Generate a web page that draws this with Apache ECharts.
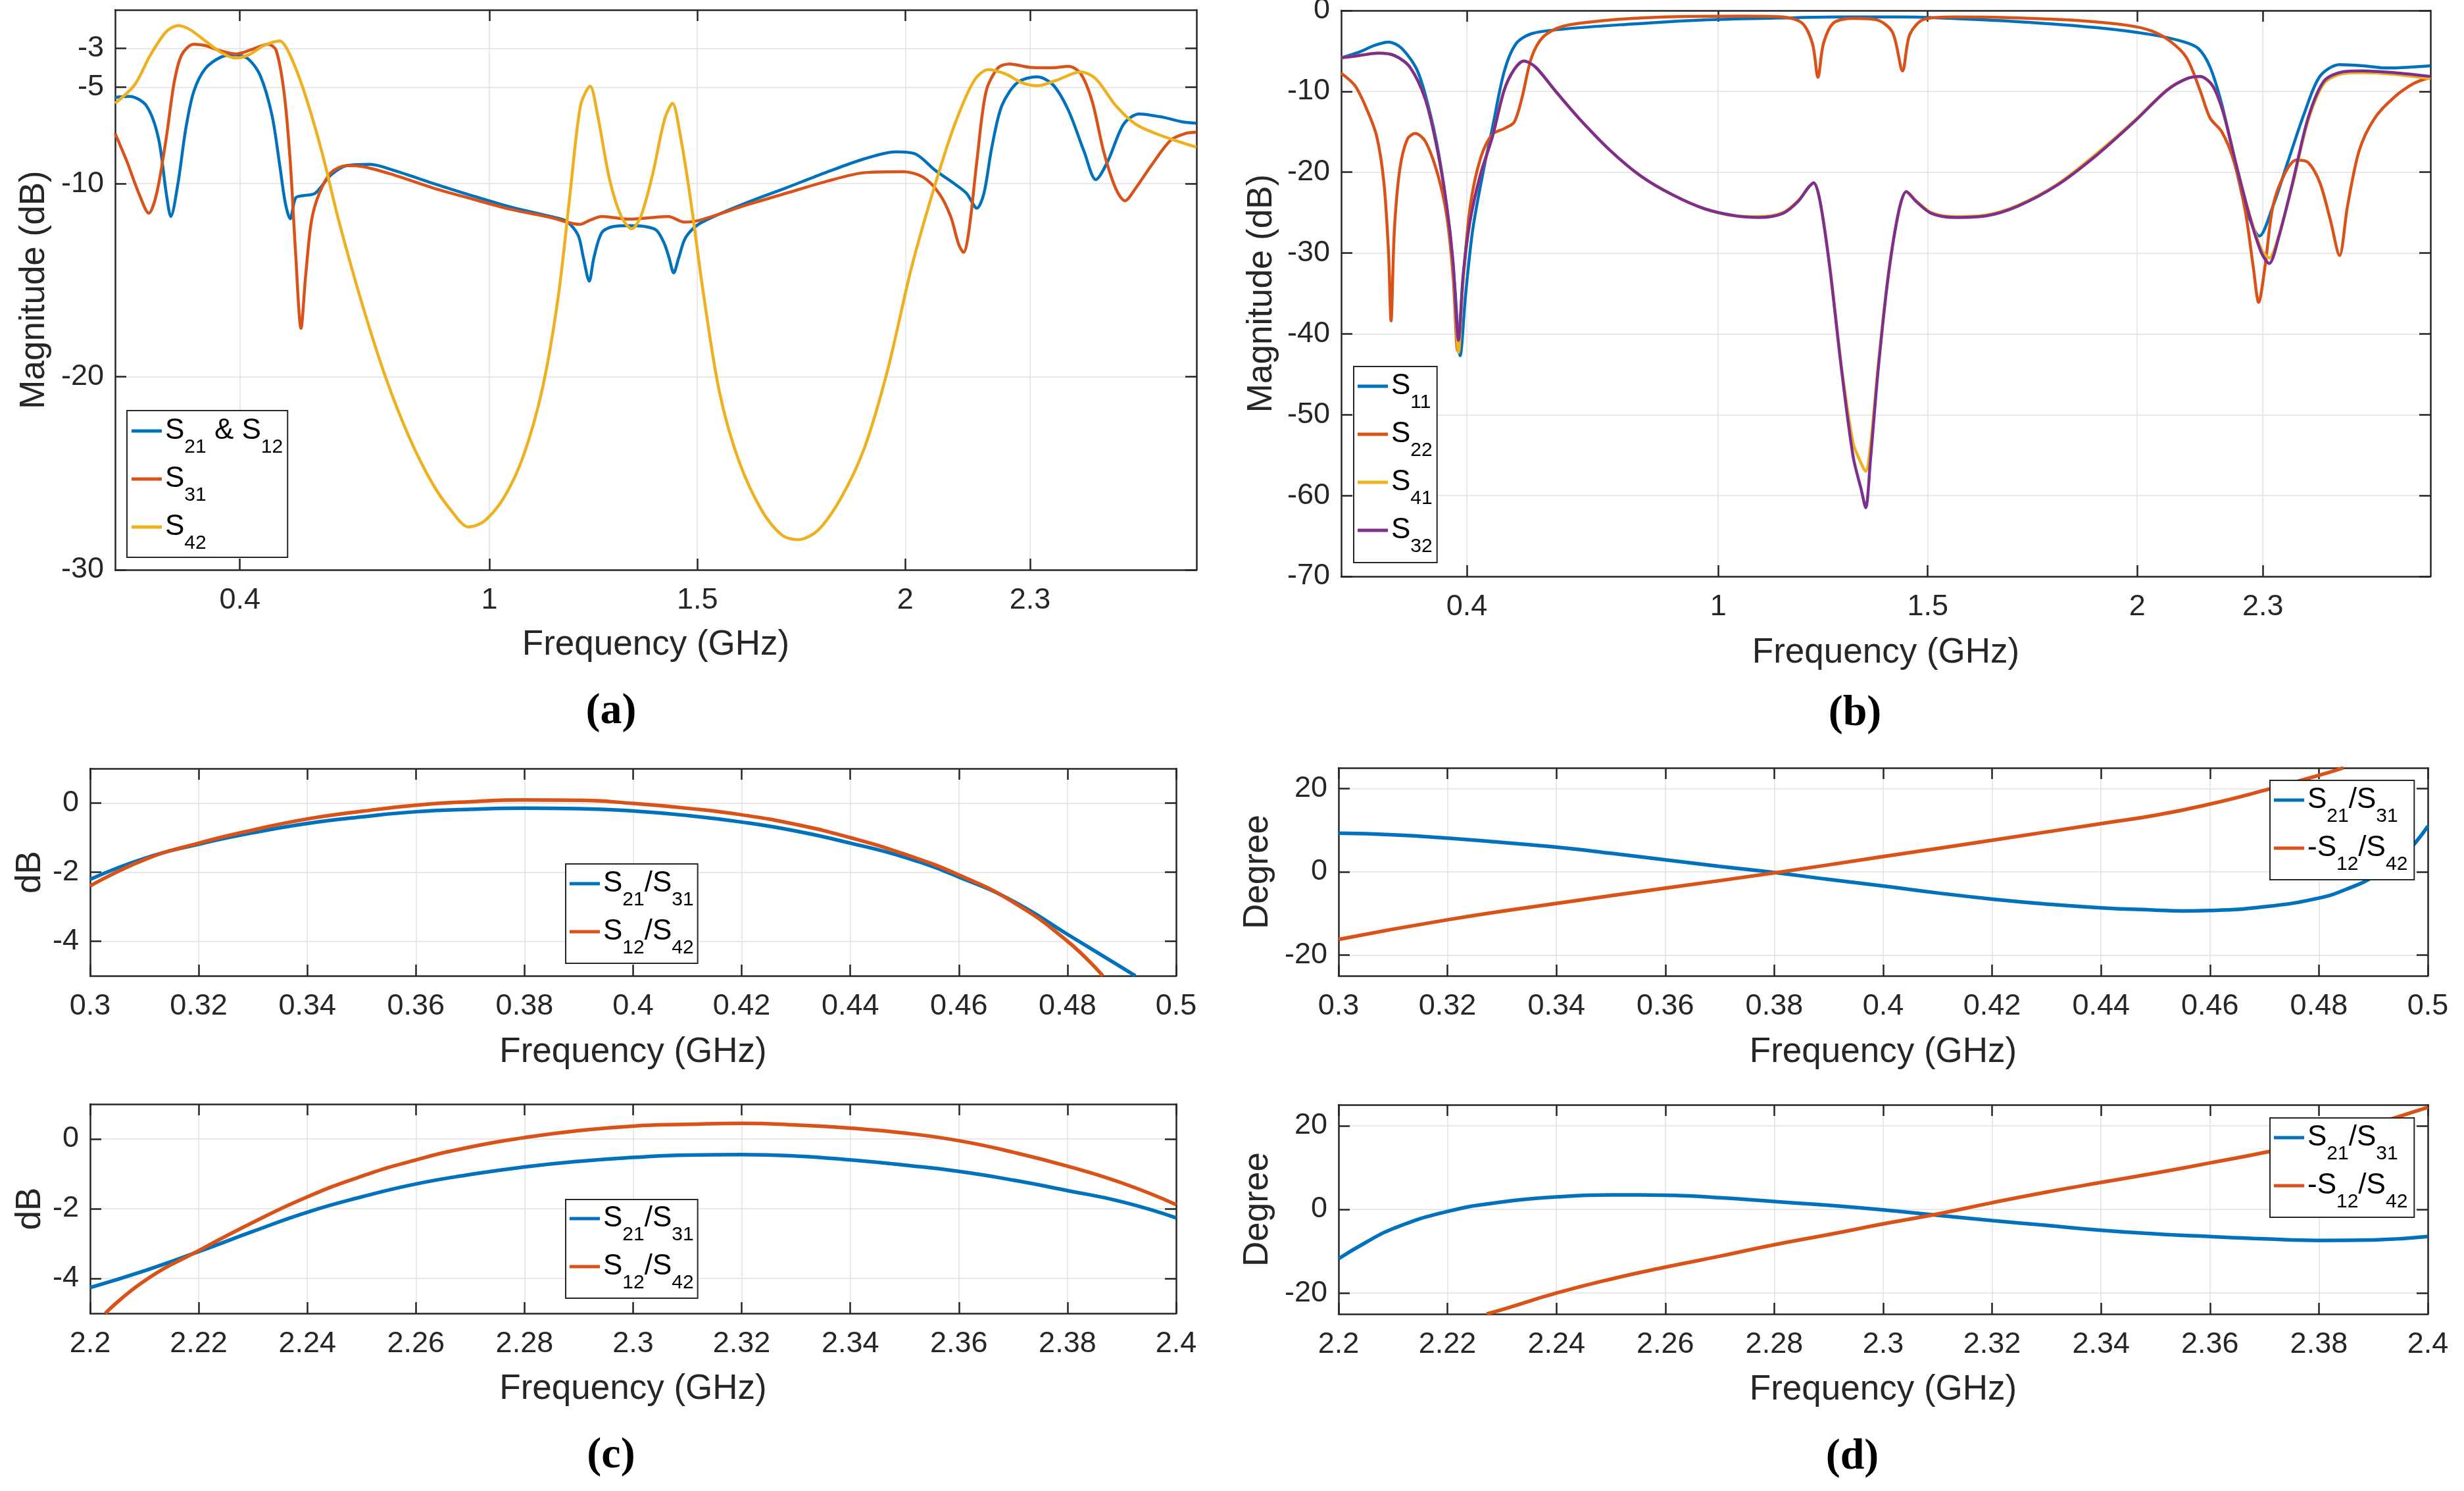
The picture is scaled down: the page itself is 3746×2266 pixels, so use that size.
<!DOCTYPE html>
<html>
<head>
<meta charset="utf-8">
<title>S-parameter responses</title>
<script src="https://cdn.jsdelivr.net/npm/echarts@6/dist/echarts.min.js"></script>
<style>
  html, body { margin: 0; padding: 0; background: #fff; }
  #chart { width: 3746px; height: 2266px; }
</style>
</head>
<body>
<div id="chart"></div>
<script>
// ---- data ----

// (a) magnitude, [GHz, dB]
var aS21 = [[0.1,-5.53],[0.135,-5.48],[0.175,-5.96],[0.204,-7.63],[0.223,-10.5],[0.234,-11.7],[0.251,-10.0],[0.270,-7.15],[0.289,-5.24],[0.317,-4.04],[0.355,-3.44],[0.392,-3.33],[0.421,-3.56],[0.449,-4.4],[0.477,-6.44],[0.496,-9.07],[0.509,-10.98],[0.521,-11.82],[0.534,-10.74],[0.553,-10.62],[0.581,-10.5],[0.619,-9.55],[0.657,-9.07],[0.713,-9.0],[0.770,-9.31],[0.864,-9.98],[0.958,-10.62],[1.053,-11.22],[1.147,-11.7],[1.185,-11.94],[1.213,-12.66],[1.226,-13.85],[1.240,-15.05],[1.251,-13.85],[1.270,-12.54],[1.298,-12.22],[1.336,-12.18],[1.374,-12.22],[1.402,-12.42],[1.421,-13.13],[1.432,-13.85],[1.443,-14.62],[1.455,-13.85],[1.472,-12.78],[1.506,-12.06],[1.619,-10.98],[1.713,-10.22],[1.808,-9.43],[1.902,-8.71],[1.977,-8.35],[2.025,-8.47],[2.072,-9.31],[2.119,-10.02],[2.147,-10.5],[2.172,-11.27],[2.189,-10.5],[2.208,-8.11],[2.232,-5.96],[2.270,-4.76],[2.317,-4.47],[2.355,-4.88],[2.392,-6.2],[2.430,-8.35],[2.458,-9.79],[2.487,-8.83],[2.525,-6.91],[2.562,-6.39],[2.619,-6.56],[2.666,-6.8],[2.7,-6.87]];
var aS31 = [[0.1,-7.4],[0.128,-8.83],[0.157,-10.5],[0.181,-11.53],[0.2,-10.5],[0.223,-7.63],[0.242,-4.76],[0.26,-3.33],[0.289,-2.78],[0.317,-2.85],[0.355,-3.13],[0.392,-3.28],[0.430,-3.04],[0.468,-2.78],[0.487,-3.09],[0.506,-5.24],[0.521,-8.83],[0.534,-13.61],[0.547,-17.49],[0.558,-14.8],[0.572,-11.94],[0.591,-10.5],[0.619,-9.43],[0.657,-9.07],[0.694,-9.11],[0.770,-9.55],[0.864,-10.22],[0.958,-10.79],[1.053,-11.34],[1.147,-11.75],[1.217,-12.11],[1.242,-11.89],[1.27,-11.7],[1.336,-11.84],[1.430,-11.7],[1.468,-11.99],[1.506,-11.89],[1.619,-11.1],[1.713,-10.5],[1.808,-9.9],[1.902,-9.43],[1.996,-9.38],[2.043,-9.67],[2.081,-10.5],[2.109,-11.7],[2.128,-13.13],[2.140,-13.56],[2.153,-12.42],[2.172,-8.83],[2.194,-5.24],[2.223,-4.0],[2.251,-3.8],[2.298,-3.97],[2.355,-4.0],[2.392,-3.92],[2.421,-4.28],[2.449,-5.72],[2.477,-8.35],[2.506,-10.26],[2.528,-10.89],[2.553,-10.26],[2.591,-9.07],[2.638,-7.75],[2.675,-7.39],[2.7,-7.34]];
var aS42 = [[0.1,-5.84],[0.147,-4.88],[0.185,-3.33],[0.223,-2.13],[0.251,-1.82],[0.279,-2.01],[0.317,-2.61],[0.355,-3.21],[0.389,-3.5],[0.421,-3.33],[0.458,-2.85],[0.496,-2.61],[0.515,-3.09],[0.543,-4.52],[0.572,-6.44],[0.6,-8.59],[0.638,-11.94],[0.694,-16.24],[0.751,-20.07],[0.808,-23.18],[0.864,-25.57],[0.911,-27.01],[0.949,-27.78],[0.987,-27.49],[1.034,-26.29],[1.081,-24.14],[1.128,-20.55],[1.166,-15.77],[1.194,-10.5],[1.219,-5.96],[1.242,-4.95],[1.26,-6.44],[1.289,-9.79],[1.317,-11.7],[1.342,-12.34],[1.364,-11.7],[1.392,-9.55],[1.421,-6.68],[1.440,-5.84],[1.458,-7.39],[1.483,-10.74],[1.515,-15.77],[1.553,-20.79],[1.6,-24.38],[1.657,-27.01],[1.704,-28.21],[1.742,-28.44],[1.789,-27.97],[1.845,-26.29],[1.902,-23.66],[1.958,-19.6],[2.015,-14.33],[2.072,-10.02],[2.119,-6.91],[2.166,-4.64],[2.2,-4.09],[2.242,-4.33],[2.279,-4.76],[2.317,-4.93],[2.364,-4.64],[2.421,-4.21],[2.458,-4.57],[2.506,-5.96],[2.553,-6.91],[2.6,-7.39],[2.657,-7.82],[2.7,-8.11]];

// (b) magnitude, [GHz, dB]
var bS11 = [[0.1,-5.85],[0.142,-5.16],[0.18,-4.3],[0.213,-3.9],[0.245,-4.7],[0.283,-7.57],[0.315,-13.3],[0.339,-19.6],[0.358,-27.1],[0.371,-34.0],[0.384,-42.7],[0.397,-35.1],[0.414,-27.1],[0.438,-20.2],[0.461,-14.5],[0.489,-7.57],[0.517,-4.13],[0.554,-2.87],[0.629,-2.3],[0.779,-1.72],[0.966,-1.15],[1.154,-0.92],[1.285,-0.8],[1.434,-0.8],[1.528,-0.92],[1.715,-1.38],[1.903,-2.12],[2.034,-2.98],[2.109,-3.84],[2.146,-4.7],[2.174,-7.0],[2.202,-11.6],[2.230,-17.9],[2.258,-24.2],[2.292,-27.9],[2.324,-24.2],[2.361,-18.5],[2.399,-12.7],[2.436,-8.15],[2.483,-6.7],[2.539,-6.83],[2.596,-7.11],[2.652,-7.0],[2.7,-6.83]];
var bS22 = [[0.1,-7.75],[0.133,-9.3],[0.161,-12.2],[0.185,-15.6],[0.202,-21.3],[0.213,-29.9],[0.219,-38.4],[0.227,-27.1],[0.240,-19.6],[0.258,-15.9],[0.277,-15.2],[0.301,-16.2],[0.330,-20.2],[0.352,-25.4],[0.367,-32.8],[0.378,-42.1],[0.390,-34.0],[0.408,-24.2],[0.433,-18.2],[0.461,-15.3],[0.489,-14.6],[0.513,-13.8],[0.532,-10.7],[0.554,-5.85],[0.582,-3.27],[0.629,-1.95],[0.723,-1.26],[0.873,-0.8],[1.06,-0.69],[1.154,-0.8],[1.2,-1.55],[1.225,-4.13],[1.238,-8.26],[1.251,-4.13],[1.275,-1.55],[1.322,-0.98],[1.378,-1.15],[1.416,-2.7],[1.44,-7.46],[1.457,-2.98],[1.491,-1.09],[1.566,-0.8],[1.715,-0.92],[1.865,-1.26],[1.978,-1.84],[2.034,-2.52],[2.080,-3.84],[2.118,-5.85],[2.150,-9.87],[2.174,-13.3],[2.202,-15.0],[2.230,-18.5],[2.258,-24.8],[2.277,-31.7],[2.290,-36.1],[2.305,-31.7],[2.324,-24.2],[2.352,-20.2],[2.380,-18.5],[2.408,-18.8],[2.436,-21.3],[2.461,-25.9],[2.483,-30.3],[2.502,-24.2],[2.530,-17.3],[2.567,-13.3],[2.614,-10.7],[2.661,-9.0],[2.7,-8.26]];
var bFreq = [0.1,0.142,0.189,0.227,0.264,0.301,0.330,0.352,0.367,0.380,0.391,0.408,0.433,0.461,0.489,0.513,0.536,0.564,0.610,0.667,0.742,0.816,0.891,0.966,1.041,1.097,1.154,1.191,1.215,1.228,1.243,1.266,1.294,1.322,1.341,1.352,1.363,1.382,1.406,1.431,1.449,1.472,1.509,1.566,1.640,1.715,1.809,1.903,1.996,2.071,2.118,2.150,2.180,2.206,2.236,2.268,2.296,2.315,2.337,2.371,2.408,2.446,2.492,2.539,2.614,2.7];
var bS41 = [-5.85,-5.57,-5.28,-5.57,-7.0,-11.0,-17.3,-24.2,-31.5,-42.3,-33.2,-25.9,-20.2,-15.6,-9.87,-7.29,-6.25,-7.0,-9.87,-13.3,-17.3,-20.5,-22.8,-24.5,-25.4,-25.5,-25.0,-23.5,-21.9,-21.3,-23.6,-31.5,-44.0,-53.5,-56.0,-57.0,-54.0,-43.8,-32.6,-24.8,-22.4,-23.5,-25.0,-25.5,-25.3,-24.1,-21.5,-17.7,-13.5,-9.8,-8.43,-8.15,-9.3,-12.7,-19.0,-25.2,-29.5,-30.6,-28.0,-21.5,-13.6,-9.0,-7.8,-7.7,-7.9,-8.45];
var bS32 = [-5.85,-5.57,-5.28,-5.57,-7.0,-11.0,-17.3,-24.2,-31.1,-40.8,-32.8,-25.9,-20.2,-15.6,-9.87,-7.29,-6.25,-7.0,-9.87,-13.3,-17.3,-20.5,-22.8,-24.5,-25.4,-25.6,-25.1,-23.6,-21.9,-21.3,-23.6,-31.7,-44.3,-55.2,-59.2,-61.5,-55.8,-44.3,-32.8,-24.8,-22.4,-23.6,-25.1,-25.6,-25.4,-24.2,-21.6,-17.9,-13.6,-9.87,-8.43,-8.15,-9.3,-12.7,-19.0,-25.4,-29.9,-31.3,-28.2,-21.3,-13.3,-8.72,-7.57,-7.46,-7.69,-8.15];

// (c) amplitude ratio in dB
var cLoF21 = [0.30,0.31,0.32,0.33,0.34,0.35,0.36,0.37,0.38,0.39,0.40,0.41,0.42,0.43,0.44,0.45,0.46,0.47,0.48,0.49,0.4925];
var cLo21 = [-2.21,-1.6,-1.19,-0.86,-0.59,-0.40,-0.25,-0.18,-0.146,-0.16,-0.23,-0.36,-0.55,-0.81,-1.16,-1.57,-2.14,-2.84,-3.8,-4.76,-5.0];
var cLoF12 = [0.30,0.31,0.32,0.33,0.34,0.35,0.36,0.37,0.38,0.39,0.40,0.41,0.42,0.43,0.44,0.45,0.46,0.47,0.48,0.4865];
var cLo12 = [-2.40,-1.64,-1.16,-0.78,-0.46,-0.24,-0.06,0.04,0.09,0.08,-0.01,-0.15,-0.34,-0.62,-1.0,-1.48,-2.08,-2.87,-4.0,-5.0];
var cHiF21 = [2.20,2.21,2.22,2.23,2.24,2.25,2.26,2.27,2.28,2.29,2.30,2.31,2.32,2.33,2.34,2.35,2.36,2.37,2.38,2.39,2.40];
var cHi21 = [-4.26,-3.78,-3.23,-2.65,-2.10,-1.66,-1.29,-1.02,-0.80,-0.64,-0.53,-0.46,-0.45,-0.49,-0.60,-0.75,-0.93,-1.18,-1.48,-1.80,-2.26];
var cHiF12 = [2.2028,2.21,2.22,2.23,2.24,2.25,2.26,2.27,2.28,2.29,2.30,2.31,2.32,2.33,2.34,2.35,2.36,2.37,2.38,2.39,2.40];
var cHi12 = [-5.0,-4.07,-3.2,-2.39,-1.66,-1.07,-0.60,-0.23,0.04,0.24,0.37,0.42,0.45,0.40,0.31,0.17,-0.05,-0.38,-0.78,-1.26,-1.88];

// (d) phase difference in degrees
var dLoF21 = [0.30,0.31,0.32,0.33,0.34,0.35,0.36,0.37,0.38,0.39,0.40,0.41,0.42,0.43,0.44,0.45,0.455,0.46,0.47,0.48,0.485,0.49,0.495,0.50];
var dLo21 = [9.28,8.9,8.1,7.08,5.92,4.46,2.88,1.31,-0.16,-1.83,-3.41,-5.08,-6.55,-7.76,-8.65,-9.2,-9.4,-9.3,-8.4,-6.3,-4.2,-1.2,3.2,11.0];
var dLoF12 = [0.30,0.32,0.34,0.36,0.38,0.40,0.42,0.44,0.45,0.46,0.47,0.48,0.4845];
var dLo12 = [-16.25,-11.53,-7.6,-3.93,-0.26,3.67,7.6,11.6,13.6,16.3,19.6,23.2,25.0];
var dHiF21 = [2.20,2.205,2.21,2.22,2.23,2.24,2.25,2.26,2.27,2.28,2.29,2.30,2.31,2.32,2.33,2.34,2.35,2.36,2.37,2.38,2.39,2.40];
var dHi21 = [-11.8,-7.9,-4.6,-0.5,1.76,2.98,3.47,3.4,2.8,1.88,0.97,-0.12,-1.4,-2.67,-3.83,-4.98,-5.84,-6.5,-7.05,-7.42,-7.3,-6.5];
var dHiF12 = [2.2272,2.23,2.24,2.25,2.26,2.27,2.28,2.29,2.30,2.31,2.32,2.33,2.34,2.35,2.36,2.37,2.38,2.39,2.40];
var dHi12 = [-25.0,-23.95,-20.0,-16.66,-13.8,-11.19,-8.45,-6.02,-3.47,-1.1,1.6,4.13,6.44,8.69,11.1,13.6,16.5,20.3,24.4];

// tick values
var wideTicks = [0.4, 1, 1.5, 2, 2.3];
var lowTicks = [0.3,0.32,0.34,0.36,0.38,0.4,0.42,0.44,0.46,0.48,0.5];
var highTicks = [2.2,2.22,2.24,2.26,2.28,2.3,2.32,2.34,2.36,2.38,2.4];
var aTicksY = [-30, -20, -10, -5, -3];
var bTicksY = [-70, -60, -50, -40, -30, -20, -10, 0];
var dbTicksY = [-4, -2, 0];
var degTicksY = [-20, 0, 20];

// ---- styling ----
var BLUE = '#0072BD', RED = '#D95319', YEL = '#EDB120', PUR = '#7E2F8E';
var INK = '#262626';
var SANS = '"Liberation Sans", Arial, Helvetica, sans-serif';

function zip(f, v) {
  var out = [];
  for (var i = 0; i < f.length; i++) out.push([f[i], v[i]]);
  return out;
}
function fmt(v) { return String(Math.round(v * 1000) / 1000); }

var grids = [
  { left: 175,  top: 15,   width: 1644, height: 851 },
  { left: 2039, top: 16,   width: 1656, height: 860 },
  { left: 137,  top: 1168, width: 1651, height: 315 },
  { left: 137,  top: 1678, width: 1651, height: 318 },
  { left: 2035, top: 1167, width: 1656, height: 316 },
  { left: 2035, top: 1679, width: 1656, height: 318 }
];
grids.forEach(function (g) { g.outerBoundsMode = 'none'; g.containLabel = false; });

var xAxes = [], yAxes = [];
var lineCss = { color: INK, width: 2.5 };

function addX(g, min, max, ticks, nameGap) {
  xAxes.push({
    type: 'value', gridIndex: g, min: min, max: max, position: 'bottom',
    name: 'Frequency (GHz)', nameLocation: 'middle', nameGap: nameGap,
    nameTextStyle: { fontFamily: SANS, fontSize: 53, color: INK },
    axisLine: { onZero: false, lineStyle: lineCss },
    axisTick: { inside: true, length: 17, customValues: ticks, lineStyle: lineCss },
    axisLabel: { customValues: ticks, margin: 24, fontFamily: SANS, fontSize: 45, color: INK, formatter: fmt },
    splitLine: { show: true, lineStyle: { color: '#e1e1e1', width: 1.5 } }
  });
  xAxes.push({
    type: 'value', gridIndex: g, min: min, max: max, position: 'top',
    axisLine: { onZero: false, lineStyle: lineCss },
    axisTick: { inside: true, length: 17, customValues: ticks, lineStyle: lineCss },
    axisLabel: { show: false }, splitLine: { show: false }
  });
}
function addY(g, min, max, ticks, name, nameGap) {
  yAxes.push({
    type: 'value', gridIndex: g, min: min, max: max, position: 'left',
    name: name, nameLocation: 'middle', nameGap: nameGap,
    nameTextStyle: { fontFamily: SANS, fontSize: 53, color: INK },
    axisLine: { onZero: false, lineStyle: lineCss },
    axisTick: { inside: true, length: 17, customValues: ticks, lineStyle: lineCss },
    axisLabel: { customValues: ticks, margin: 17, fontFamily: SANS, fontSize: 45, color: INK, formatter: fmt },
    splitLine: { show: true, lineStyle: { color: '#e1e1e1', width: 1.5 } }
  });
  yAxes.push({
    type: 'value', gridIndex: g, min: min, max: max, position: 'right',
    axisLine: { onZero: false, lineStyle: lineCss },
    axisTick: { inside: true, length: 17, customValues: ticks, lineStyle: lineCss },
    axisLabel: { show: false }, splitLine: { show: false }
  });
}

addX(0, 0.1, 2.7, wideTicks, 88);   addY(0, -30, -1, aTicksY, 'Magnitude (dB)', 96);
addX(1, 0.1, 2.7, wideTicks, 90);   addY(1, -70, 0, bTicksY, 'Magnitude (dB)', 94);
addX(2, 0.3, 0.5, lowTicks, 90);    addY(2, -5, 1, dbTicksY, 'dB', 64);
addX(3, 2.2, 2.4, highTicks, 89);   addY(3, -5, 1, dbTicksY, 'dB', 64);
addX(4, 0.3, 0.5, lowTicks, 90);    addY(4, -25, 25, degTicksY, 'Degree', 96);
addX(5, 2.2, 2.4, highTicks, 89);   addY(5, -25, 25, degTicksY, 'Degree', 96);

function curve(name, color, data, g, w, smooth) {
  return {
    type: 'line', name: name, data: data,
    xAxisIndex: 2 * g, yAxisIndex: 2 * g,
    showSymbol: false, symbol: 'none',
    smooth: smooth,
    lineStyle: { color: color, width: w }, itemStyle: { color: color },
    emphasis: { disabled: true }
  };
}

var series = [
  curve('S21 & S12', BLUE, aS21, 0, 4.5, 0.3),
  curve('S31', RED, aS31, 0, 4.5, 0.3),
  curve('S42', YEL, aS42, 0, 4.5, 0.3),
  curve('S11', BLUE, bS11, 1, 4.5, 0.3),
  curve('S22', RED, bS22, 1, 4.5, 0.3),
  curve('S41', YEL, zip(bFreq, bS41), 1, 4.5, 0.3),
  curve('S32', PUR, zip(bFreq, bS32), 1, 4.5, 0.3),
  curve('S21/S31', BLUE, zip(cLoF21, cLo21), 2, 5.5, 0.5),
  curve('S12/S42', RED, zip(cLoF12, cLo12), 2, 5.5, 0.5),
  curve('S21/S31', BLUE, zip(cHiF21, cHi21), 3, 5.5, 0.5),
  curve('S12/S42', RED, zip(cHiF12, cHi12), 3, 5.5, 0.5),
  curve('S21/S31', BLUE, zip(dLoF21, dLo21), 4, 5.5, 0.5),
  curve('-S12/S42', RED, zip(dLoF12, dLo12), 4, 5.5, 0.5),
  curve('S21/S31', BLUE, zip(dHiF21, dHi21), 5, 5.5, 0.5),
  curve('-S12/S42', RED, zip(dHiF12, dHi12), 5, 5.5, 0.5)
];

// legend labels with subscripts
var legendText = {
  'S21 & S12': '{n|S}{s|21}{n| & S}{s|12}',
  'S31': '{n|S}{s|31}',
  'S42': '{n|S}{s|42}',
  'S11': '{n|S}{s|11}',
  'S22': '{n|S}{s|22}',
  'S41': '{n|S}{s|41}',
  'S32': '{n|S}{s|32}',
  'S21/S31': '{n|S}{s|21}{n|/S}{s|31}',
  'S12/S42': '{n|S}{s|12}{n|/S}{s|42}',
  '-S12/S42': '{n|-S}{s|12}{n|/S}{s|42}'
};
function legend(names, left, top, padding) {
  return {
    data: names, orient: 'vertical', left: left, top: top,
    padding: padding, itemGap: 11, itemWidth: 46, itemHeight: 5, icon: 'rect',
    backgroundColor: '#fff', borderColor: INK, borderWidth: 2, borderRadius: 0,
    selectedMode: false,
    formatter: function (name) { return legendText[name]; },
    textStyle: {
      color: '#000',
      rich: {
        n: { fontFamily: SANS, fontSize: 44, lineHeight: 44, verticalAlign: 'top', color: '#000' },
        s: { fontFamily: SANS, fontSize: 30, lineHeight: 30, verticalAlign: 'top', padding: [32, 0, 0, 0], color: '#000' }
      }
    }
  };
}

var legends = [
  legend(['S21 & S12', 'S31', 'S42'], 193, 624, [9, 7, 6, 7]),
  legend(['S11', 'S22', 'S41', 'S32'], 2058, 557, [8, 7, 9, 6]),
  legend(['S21/S31', 'S12/S42'], 860, 1313, [8, 6, 8, 6]),
  legend(['S21/S31', 'S12/S42'], 860, 1823, [7, 6, 8, 6]),
  legend(['S21/S31', '-S12/S42'], 3451, 1186, [8, 10, 8, 6]),
  legend(['S21/S31', '-S12/S42'], 3451, 1699, [8, 10, 8, 6])
];

function tag(text, x, y) {
  return {
    type: 'text', x: x, y: y, z: 10,
    style: { text: text, fill: '#000', fontFamily: '"Liberation Serif", "DejaVu Serif", serif',
             fontSize: 66, fontWeight: 'bold', align: 'center', verticalAlign: 'middle' }
  };
}

var chart = echarts.init(document.getElementById('chart'), null, { renderer: 'canvas' });
chart.setOption({
  animation: false,
  backgroundColor: '#fff',
  grid: grids,
  xAxis: xAxes,
  yAxis: yAxes,
  legend: legends,
  series: series,
  graphic: [
    tag('(a)', 929, 1082),
    tag('(b)', 2820, 1085),
    tag('(c)', 929, 2213),
    tag('(d)', 2816, 2215)
  ]
});
</script>
</body>
</html>
